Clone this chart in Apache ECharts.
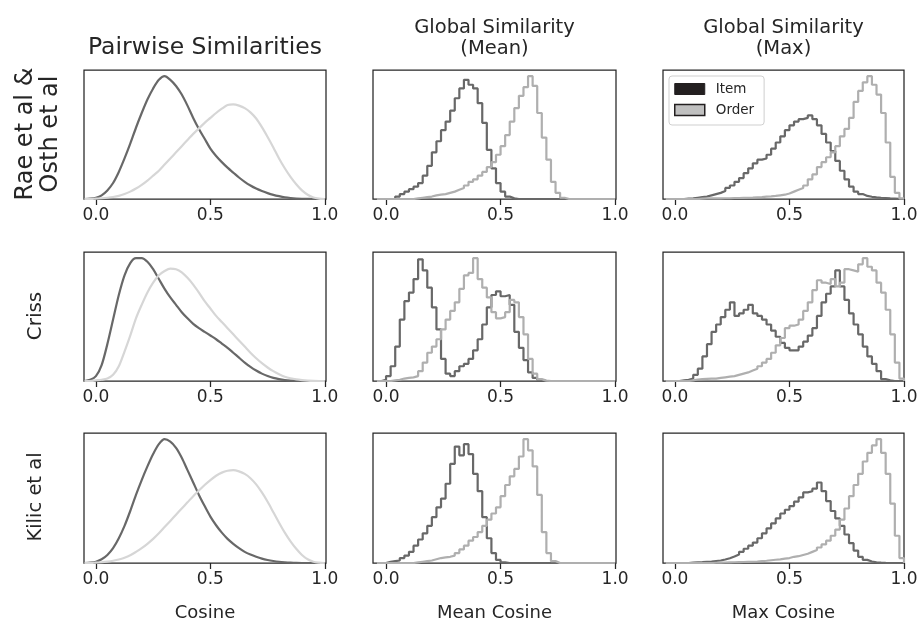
<!DOCTYPE html>
<html>
<head>
<meta charset="utf-8">
<title>Similarity distributions</title>
<script src="https://cdn.jsdelivr.net/npm/echarts@6/dist/echarts.min.js"></script>
<style>
  html, body { margin: 0; padding: 0; background: #fff; }
  #chart { width: 921px; height: 625px; }
</style>
</head>
<body>
<div id="chart"></div>
<script>
// tick marks / labels on every x axis
const tickValues = [0, 0.5, 1.0];
const tickLabels = ['0.0', '0.5', '1.0'];
const seriesNames = ['Item', 'Order'];
const colTitles = [['Pairwise Similarities'], ['Global Similarity', '(Mean)'], ['Global Similarity', '(Max)']];
const rowNames = [['Rae et al &', 'Osth et al'], ['Criss'], ['Kilic et al']];
const xNames = ['Cosine', 'Mean Cosine', 'Max Cosine'];

// column 1: smooth density curves, sampled every 0.025
const kdeX = [-0.05, -0.025,
  0, 0.025, 0.05, 0.075, 0.1, 0.125, 0.15, 0.175,
  0.2, 0.225, 0.25, 0.275, 0.3, 0.325, 0.35, 0.375,
  0.4, 0.425, 0.45, 0.475, 0.5, 0.525, 0.55, 0.575,
  0.6, 0.625, 0.65, 0.675, 0.7, 0.725, 0.75, 0.775,
  0.8, 0.825, 0.85, 0.875, 0.9, 0.925, 0.95, 0.975,
  1.0];
const pairItemRae = [0, 0.3,
  1, 3, 7, 13, 22, 33, 45, 58,
  70, 81, 90, 97, 100, 97, 92, 85,
  76, 66, 57, 49, 41, 35, 30, 25.5,
  21.5, 17.5, 14, 11, 8.5, 6.5, 4.8, 3.4,
  2.3, 1.4, 0.8, 0.4, 0.2, 0.1, 0, 0,
  0];
const pairOrderRae = [0, 0,
  0.3, 0.6, 1, 1.6, 2.5, 4, 6, 8.5,
  11.5, 15, 19, 23, 28, 33, 38, 43,
  48, 53, 57.5, 62, 66, 70, 73.5, 76.5,
  77, 76, 74, 70.5, 65.5, 58.5, 50.5, 42,
  33, 25, 18, 12, 7, 3.5, 1.2, 0.3,
  0];
const pairItemCriss = [0, 1,
  4, 13, 30, 50, 70, 86, 96, 100,
  100, 97, 91, 83, 75, 68, 62, 56,
  51, 46.5, 43, 40, 37, 34, 30.5, 27,
  23, 19, 15, 11.5, 8.5, 6, 4, 2.5,
  1.5, 0.8, 0.4, 0.2, 0, 0, 0, 0,
  0];
const pairOrderCriss = [0, 0,
  0.5, 1, 2, 5, 12, 24, 37, 51,
  62, 72, 80, 86, 89.5, 91.5, 91, 88.5,
  84, 78.5, 72, 65, 59, 53, 48, 43,
  38, 33, 28, 23, 18.5, 14.5, 11, 8,
  5.5, 3.5, 2.2, 1.3, 0.7, 0.3, 0.1, 0,
  0];
const pairItemKilic = [0, 0.3,
  1, 3, 6.5, 12, 20, 30, 42, 55,
  67, 78, 88, 96, 100, 98, 93, 85,
  75, 65, 55, 46, 37.5, 30.5, 24.5, 19.5,
  15.5, 12, 9, 6.8, 5, 3.5, 2.4, 1.6,
  1, 0.6, 0.3, 0.1, 0, 0, 0, 0,
  0];
const pairOrderKilic = [0, 0,
  0.3, 0.6, 1.1, 1.8, 2.8, 4.3, 6.3, 9,
  12, 15.5, 19.5, 24, 29, 34, 39, 44,
  49, 54, 58.5, 63, 67, 70.5, 73, 74.5,
  75, 74, 72, 68.5, 63.5, 57, 49.5, 41,
  32.5, 24.5, 17.5, 11.5, 6.5, 3, 1, 0.3,
  0];

// columns 2 and 3: step histograms, left bin edges (width 0.02)
const binWidth = 0.02;
const binEdges = [-0.04, -0.02,
  0.00, 0.02, 0.04, 0.06, 0.08, 0.10, 0.12, 0.14, 0.16, 0.18,
  0.20, 0.22, 0.24, 0.26, 0.28, 0.30, 0.32, 0.34, 0.36, 0.38,
  0.40, 0.42, 0.44, 0.46, 0.48, 0.50, 0.52, 0.54, 0.56, 0.58,
  0.60, 0.62, 0.64, 0.66, 0.68, 0.70, 0.72, 0.74, 0.76, 0.78,
  0.80, 0.82, 0.84, 0.86, 0.88, 0.90, 0.92, 0.94, 0.96, 0.98];

const meanItemRae = [0, 0,
  0, 0, 2, 4, 6, 8, 10, 13, 19, 27,
  38, 47, 56, 63, 72, 82, 90, 97, 93, 90,
  78, 62, 40, 25, 13, 6, 2, 0.5, 0, 0,
  0, 0, 0, 0, 0, 0, 0, 0, 0, 0,
  0, 0, 0, 0, 0, 0, 0, 0, 0, 0];
const meanOrderRae = [0, 0,
  0, 0, 0, 0, 0, 0, 0.5, 1, 1.5, 2,
  3, 3.5, 4, 5, 6, 7.5, 9, 11, 14, 16,
  19, 22, 26, 30, 36, 43, 52, 63, 74, 84,
  91, 100, 92, 70, 50, 32, 14, 5, 1, 0,
  0, 0, 0, 0, 0, 0, 0, 0, 0, 0];
const meanItemCriss = [0, 1,
  4, 12, 28, 50, 65, 72, 83, 99, 90, 76,
  60, 42, 18, 6, 4, 8, 12, 14, 18, 25,
  34, 46, 60, 70, 73, 69, 70, 62, 40, 27,
  17, 7, 2.5, 0.8, 0, 0, 0, 0, 0, 0,
  0, 0, 0, 0, 0, 0, 0, 0, 0, 0];
const meanOrderCriss = [0, 0,
  0, 0.5, 1, 2, 2.5, 3, 4, 8, 15, 23,
  28, 34, 42, 50, 57, 64, 75, 86, 88, 100,
  83, 76, 68, 56, 51, 52, 56, 66, 64, 52,
  38, 18, 6, 1.5, 0.3, 0, 0, 0, 0, 0,
  0, 0, 0, 0, 0, 0, 0, 0, 0, 0];
const meanItemKilic = [0, 0,
  1, 1.5, 2, 4, 6, 9, 14, 19, 24, 30,
  37, 45, 52, 64, 80, 94, 87, 96, 88, 72,
  58, 37, 20, 8, 2.5, 0.5, 0, 0, 0, 0,
  0, 0, 0, 0, 0, 0, 0, 0, 0, 0,
  0, 0, 0, 0, 0, 0, 0, 0, 0, 0];
const meanOrderKilic = [0, 0,
  0, 0, 0, 0, 0, 0, 0.5, 1, 1.5, 2,
  3, 4, 4.5, 5, 6, 8, 11, 14, 18, 21,
  25, 30, 35, 40, 45, 54, 63, 70, 76, 86,
  100, 91, 78, 55, 25, 8, 1.5, 0, 0, 0,
  0, 0, 0, 0, 0, 0, 0, 0, 0, 0];

const maxItemRae = [0, 0,
  0, 0, 0.3, 0.5, 1, 1.5, 2, 3, 4, 5,
  6.5, 9, 11, 14, 17, 21, 25, 29, 32, 33,
  36, 41, 46, 51, 56, 60, 63, 65, 66, 68,
  65, 60, 53, 46, 39, 31, 23, 16, 10, 6,
  4, 2.5, 1.8, 1.3, 1, 0.8, 0.5, 0.3, 0.1, 0];
const maxOrderRae = [0, 0,
  0, 0, 0, 0, 0, 0.3, 0.5, 0.5, 0.5, 0.5,
  0.6, 0.6, 0.8, 0.8, 0.9, 1, 1.1, 1.3, 1.5, 2,
  2.2, 2.5, 3, 3.5, 4.5, 6, 7.5, 9, 11, 16,
  20, 26, 30, 34, 38, 43, 51, 57, 66, 79,
  88, 95, 100, 93, 85, 70, 46, 18, 5, 0.5];
const maxItemCriss = [0, 0,
  0, 0.5, 1, 2, 5, 10, 20, 30, 40, 46,
  52, 58, 64, 53, 55, 58, 62, 55, 53, 50,
  46, 41, 36, 31, 27, 25, 25, 28, 32, 37,
  43, 53, 64, 71, 77, 90, 77, 66, 55, 46,
  38, 28, 20, 14, 8, 1.5, 0.5, 0, 0, 0];
const maxOrderCriss = [0, 0,
  0, 0, 0, 0.5, 1.2, 1.5, 1.7, 1.9, 2, 2.5,
  3, 3.5, 4, 5, 6, 7, 8.5, 10, 12, 15,
  18, 23, 29, 35, 43, 45, 46, 50, 57, 64,
  74, 82, 80, 79, 83, 77, 80, 91, 90, 89,
  95, 100, 93, 90, 80, 72, 58, 38, 15, 2];
const maxItemKilic = [0, 0,
  0, 0, 0, 0.3, 0.5, 0.7, 1, 1.2, 1.6, 2,
  2.8, 3.8, 5.2, 6.8, 9, 11.5, 14, 16.5, 20, 24,
  28, 32, 36, 40, 43, 46, 49.5, 53, 57, 58,
  60, 65, 58, 50, 42, 36, 30, 23, 16, 10,
  5, 2.5, 1.2, 0.6, 0.3, 0.1, 0, 0, 0, 0];
const maxOrderKilic = [0, 0,
  0, 0, 0, 0, 0, 0, 0, 0, 0.2, 0.3,
  0.4, 0.5, 0.6, 0.7, 0.8, 0.9, 1, 1.2, 1.5, 1.8,
  2.2, 2.6, 3, 3.5, 4, 5, 5.5, 6.5, 7.5, 9,
  10.5, 12.5, 15, 18, 22, 27, 35, 44, 54, 63,
  72, 82, 89, 95, 100, 89, 72, 48, 22, 4];

const panels = [
  [[pairItemRae, pairOrderRae], [meanItemRae, meanOrderRae], [maxItemRae, maxOrderRae]],
  [[pairItemCriss, pairOrderCriss], [meanItemCriss, meanOrderCriss], [maxItemCriss, maxOrderCriss]],
  [[pairItemKilic, pairOrderKilic], [meanItemKilic, meanOrderKilic], [maxItemKilic, maxOrderKilic]]
];

// layout (px) and axis extents
const colLeft = [84, 373, 663];
const colWidth = [242, 243, 241];
const rowTop = [70, 252, 433];
const rowHeight = [129, 129, 130];
const xMin = [-0.052, -0.057, -0.052];
const xMax = [1.005, 1.004, 1.0];
const yMax = 105;

const ink = '#262626';
const darkLine = '#686868';
const lightKde = '#d6d6d6';
const lightHist = '#afafaf';
const font = '"DejaVu Sans", sans-serif';

const chart = echarts.init(document.getElementById('chart'));

const grids = [], xAxes = [], yAxes = [], series = [];
for (let r = 0; r < 3; r++) {
  for (let c = 0; c < 3; c++) {
    const i = r * 3 + c;
    grids.push({
      left: colLeft[c], top: rowTop[r], width: colWidth[c], height: rowHeight[r],
      show: true, borderColor: ink, borderWidth: 1.25, backgroundColor: 'transparent'
    });
    xAxes.push({
      type: 'value', gridIndex: i, min: xMin[c], max: xMax[c],
      axisLine: { show: false },
      axisTick: { show: true, length: 6, customValues: tickValues, lineStyle: { color: ink, width: 1.25 } },
      axisLabel: {
        customValues: tickValues, margin: 8, color: ink, fontSize: 17, fontFamily: font,
        formatter: v => tickLabels[tickValues.indexOf(v)]
      },
      splitLine: { show: false },
      name: r === 2 ? xNames[c] : '', nameLocation: 'middle', nameGap: 41,
      nameTextStyle: { color: ink, fontSize: 18, fontFamily: font }
    });
    yAxes.push({ type: 'value', gridIndex: i, min: 0, max: yMax, show: false });

    const pair = panels[r][c];
    pair.forEach((vals, k) => {
      const s = {
        name: seriesNames[k], type: 'line', xAxisIndex: i, yAxisIndex: i,
        symbol: 'none', silent: true, animation: false,
        lineStyle: { width: 2.2, color: k === 0 ? darkLine : (c === 0 ? lightKde : lightHist) },
        itemStyle: { color: k === 0 ? darkLine : (c === 0 ? lightKde : lightHist) }
      };
      if (c === 0) {
        s.smooth = 0.3;
        s.data = kdeX.map((x, j) => [x, vals[j]]);
      } else {
        s.step = 'end';
        s.data = binEdges.map((x, j) => [x, vals[j]]);
        s.data.push([binEdges[binEdges.length - 1] + binWidth, 0]);
      }
      series.push(s);
    });
  }
}

const graphics = [];
const textStyle = (t, size) => ({
  text: t, font: size + 'px ' + font, fill: ink,
  textAlign: 'center', textVerticalAlign: 'middle', align: 'center', verticalAlign: 'middle'
});
const titleSize = [23.5, 19.5, 19.5];
colTitles.forEach((lines, c) => {
  const cx = colLeft[c] + colWidth[c] / 2;
  lines.forEach((t, k) => {
    const y = lines.length === 1 ? 48 : 28 + k * 21;
    graphics.push({ type: 'text', x: cx, y: y, silent: true, style: textStyle(t, titleSize[c]) });
  });
});
const rowLabelX = [[26, 51], [36], [36]];
const rowLabelY = [134, 316, 497];
const rowLabelSize = [24, 20, 19.5];
rowNames.forEach((lines, r) => {
  lines.forEach((t, k) => {
    graphics.push({
      type: 'text', x: rowLabelX[r][k], y: rowLabelY[r], rotation: Math.PI / 2, silent: true,
      style: textStyle(t, rowLabelSize[r])
    });
  });
});

chart.setOption({
  animation: false,
  textStyle: { fontFamily: font },
  grid: grids,
  xAxis: xAxes,
  yAxis: yAxes,
  series: series,
  legend: {
    orient: 'vertical', left: 669, top: 76, selectedMode: false,
    icon: 'rect', itemWidth: 30, itemHeight: 11, itemGap: 7,
    padding: [6, 10, 8, 5],
    backgroundColor: '#ffffff', borderColor: '#cfcfcf', borderWidth: 1, borderRadius: 3,
    textStyle: { color: ink, fontSize: 13.5, fontFamily: font, padding: [0, 0, 0, 6] },
    data: [
      { name: 'Item', itemStyle: { color: '#231f20', borderColor: '#231f20', borderWidth: 1 } },
      { name: 'Order', itemStyle: { color: '#c0c0c0', borderColor: '#231f20', borderWidth: 1.5 } }
    ]
  },
  graphic: graphics
});
</script>
</body>
</html>
